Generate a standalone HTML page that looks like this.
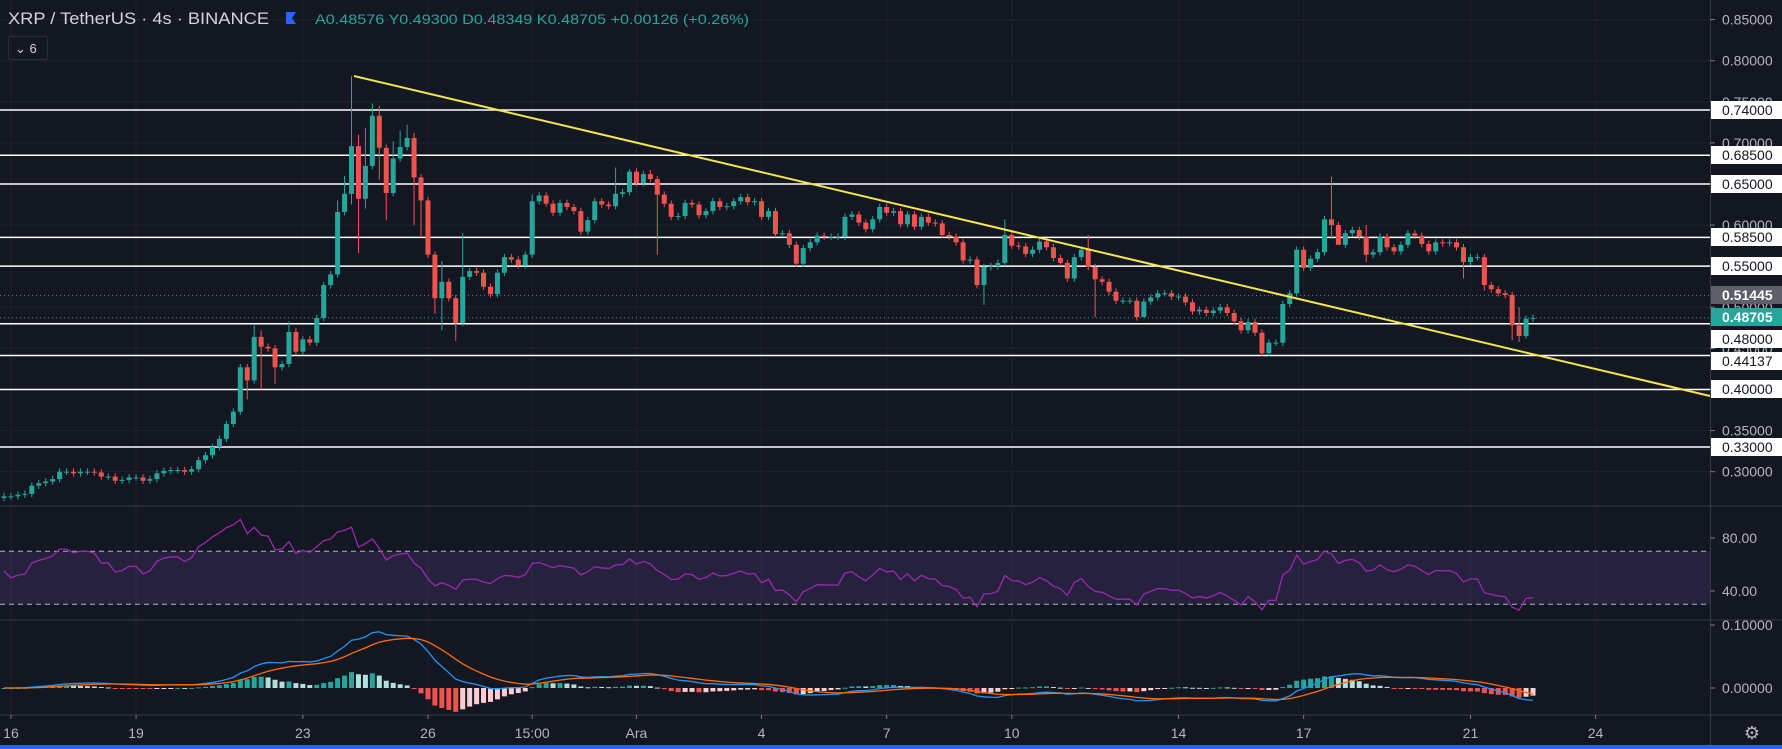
<!DOCTYPE html>
<html><head><meta charset="utf-8">
<style>
html,body{margin:0;padding:0;background:#131722;overflow:hidden}
svg{display:block}
text{font-family:"Liberation Sans",sans-serif}
</style></head>
<body>
<svg id="c" width="1782" height="749" viewBox="0 0 1782 749" xmlns="http://www.w3.org/2000/svg">
<rect x="0" y="0" width="1782" height="749" fill="#131722"/>
<g id="grid"></g>
<g id="levels"></g>
<g id="candles"></g>
<line x1="354" y1="76" x2="1710" y2="396" stroke="#f5e64a" stroke-width="2"/>
<g id="rsi"></g>
<g id="macd"></g>
<g id="axes"></g>
<text x="8" y="24" fill="#d1d4dc" font-size="17" textLength="261" lengthAdjust="spacingAndGlyphs">XRP / TetherUS · 4s · BINANCE</text>
<path d="M286 12 h10 l-4 6 l4 6 h-10 z" fill="#2962ff"/>
<text x="315" y="24" fill="#26a69a" font-size="14" textLength="434" lengthAdjust="spacingAndGlyphs">A0.48576 Y0.49300 D0.48349 K0.48705 +0.00126 (+0.26%)</text>
<rect x="8.5" y="36.5" width="39" height="23" rx="2" fill="none" stroke="#2a2e39"/>
<text x="15" y="53" fill="#d1d4dc" font-size="13">⌄ 6</text>
<rect x="0" y="745" width="1782" height="4" fill="#2962ff"/>
<text x="1752" y="739" fill="#b2b5be" font-size="18" text-anchor="middle">⚙</text>
</svg>
<script>
const closes=[0.270,0.270,0.272,0.273,0.283,0.286,0.288,0.291,0.300,0.300,0.298,0.300,0.300,0.299,0.294,0.294,0.289,0.290,0.293,0.293,
0.289,0.291,0.298,0.301,0.302,0.302,0.300,0.303,0.314,0.320,0.330,0.340,0.358,0.373,0.427,0.411,0.464,0.452,0.450,0.427,
0.431,0.470,0.446,0.461,0.457,0.487,0.527,0.540,0.616,0.638,0.696,0.632,0.672,0.733,0.694,0.639,0.681,0.695,0.706,0.658,
0.630,0.564,0.511,0.531,0.511,0.481,0.537,0.544,0.542,0.525,0.516,0.542,0.561,0.558,0.551,0.564,0.629,0.636,0.626,0.615,
0.627,0.622,0.617,0.592,0.606,0.629,0.625,0.623,0.638,0.640,0.665,0.651,0.662,0.656,0.637,0.626,0.610,0.611,0.627,0.625,
0.612,0.617,0.629,0.622,0.623,0.629,0.634,0.628,0.629,0.610,0.617,0.589,0.590,0.576,0.553,0.572,0.579,0.587,0.586,0.586,
0.586,0.610,0.613,0.603,0.595,0.607,0.622,0.615,0.617,0.601,0.613,0.598,0.610,0.603,0.602,0.588,0.586,0.579,0.557,0.558,
0.527,0.549,0.550,0.554,0.588,0.575,0.574,0.565,0.570,0.580,0.573,0.560,0.554,0.535,0.561,0.570,0.549,0.534,0.531,0.519,
0.508,0.508,0.508,0.488,0.507,0.512,0.517,0.517,0.513,0.513,0.506,0.495,0.497,0.493,0.496,0.500,0.493,0.483,0.472,0.482,
0.469,0.444,0.457,0.457,0.504,0.517,0.570,0.548,0.559,0.567,0.607,0.600,0.576,0.590,0.594,0.586,0.564,0.567,0.586,0.573,
0.568,0.576,0.590,0.587,0.577,0.568,0.579,0.578,0.579,0.573,0.555,0.561,0.561,0.527,0.522,0.517,0.515,0.478,0.465,0.486,0.487];
const firstOpen=0.268;
const highOverrides={36:0.478,37:0.472,41:0.483,42:0.475,48:0.630,49:0.660,50:0.781,51:0.710,52:0.718,53:0.748,54:0.745,56:0.702,57:0.715,58:0.722,59:0.712,63:0.556,66:0.590,76:0.637,88:0.670,90:0.668,93:0.667,144:0.607,156:0.588,191:0.659,196:0.600,213:0.565,218:0.500};
const lowOverrides={35:0.388,37:0.400,39:0.407,50:0.625,51:0.566,52:0.620,54:0.655,55:0.606,59:0.600,60:0.585,62:0.492,63:0.472,65:0.459,94:0.564,141:0.503,157:0.488,164:0.492,181:0.440,191:0.583,192:0.577,196:0.555,210:0.535,213:0.520,217:0.460,218:0.458,219:0.462};
const priceTicks=[0.85,0.80,0.75,0.70,0.65,0.60,0.55,0.50,0.45,0.40,0.35,0.30];
const tickLabels=["0.85000","0.80000","0.75000","0.70000","0.65000","0.60000","0.55000","0.50000","0.45000","0.40000","0.35000","0.30000"];
const levelValues=[0.74,0.685,0.65,0.585,0.55,0.48,0.44137,0.40,0.33];
const levelLabels=["0.74000","0.68500","0.65000","0.58500","0.55000","0.48000","0.44137","0.40000","0.33000"];
const levelLabelY=[110,155,184,237,266,339,361,389,447];
const timeLabels=["16","19","23","26","15:00","Ara","4","7","10","14","17","21","24"];
const timeIdx=[1,19,43,61,76,91,109,127,145,169,187,211,229];
const rsiTicks=[80,40];
const macdTicks=[0.1,0.0];

const NS="http://www.w3.org/2000/svg";
function el(tag,attrs,parent){const e=document.createElementNS(NS,tag);for(const k in attrs)e.setAttribute(k,attrs[k]);parent.appendChild(e);return e;}
const X=i=>4+6.95*i;
const Y=p=>110+(0.74-p)*822;
const RY=v=>538-(v-80)*1.325;
const MY=v=>688-v*630;
const PLOT_R=1710;

const grid=document.getElementById('grid');
priceTicks.forEach((p,k)=>{const l=el('line',{x1:0,x2:PLOT_R,y1:Y(p),y2:Y(p),stroke:'#1e222d','stroke-width':1},grid);

});
timeIdx.forEach(i=>{const l=el('line',{x1:X(i),x2:X(i),y1:0,y2:715,stroke:'#1e222d','stroke-width':1},grid);

});

const lv=document.getElementById('levels');
levelValues.forEach((p,k)=>{const l=el('line',{x1:0,x2:PLOT_R,y1:Y(p),y2:Y(p),stroke:'#ffffff','stroke-width':1.5},lv);

});
const d1=el('line',{x1:0,x2:PLOT_R,y1:Y(0.51445),y2:Y(0.51445),stroke:'#787b86','stroke-dasharray':'1 3'},lv);


const d2=el('line',{x1:0,x2:PLOT_R,y1:Y(0.48705),y2:Y(0.48705),stroke:'#26a69a','stroke-dasharray':'1 3'},lv);



const cg=document.getElementById('candles');
closes.forEach((c,i)=>{
  const o=i===0?firstOpen:closes[i-1];
  const up=c>=o;
  const col=up?'#26a69a':'#ef5350';
  const top=Math.max(o,c),bot=Math.min(o,c);
  const hi=highOverrides[i]!==undefined?Math.max(highOverrides[i],top):top+0.004;
  const lo=lowOverrides[i]!==undefined?Math.min(lowOverrides[i],bot):bot-0.004;
  const g=el('g',{},cg);
  
  
  el('line',{x1:X(i),x2:X(i),y1:Y(hi),y2:Y(lo),stroke:col,'stroke-width':1},g);
  const h=Math.max(1,Y(bot)-Y(top));
  el('rect',{x:X(i)-2.5,y:Y(top),width:5,height:h,fill:col},g);
});

const rsi=[];let ag=0,al=0;
closes.forEach((c,i)=>{
  if(i===0){rsi.push(55);return;}
  const ch=c-closes[i-1];const g=Math.max(ch,0),l=Math.max(-ch,0);
  if(i===1){ag=g+0.002;al=l+0.002;}else{ag=(ag*13+g)/14;al=(al*13+l)/14;}
  rsi.push(al===0?100:100-100/(1+ag/al));
});
const rg=document.getElementById('rsi');
const band=el('rect',{x:0,y:RY(70),width:PLOT_R,height:RY(30)-RY(70),fill:'#7e57c2','fill-opacity':0.18},rg);


[70,30].forEach(v=>{const l=el('line',{x1:0,x2:PLOT_R,y1:RY(v),y2:RY(v),stroke:'#b2b5be','stroke-dasharray':'5 4','stroke-width':1},rg);

});
const rp=el('polyline',{points:rsi.map((v,i)=>X(i)+','+RY(v)).join(' '),fill:'none',stroke:'#9c27b0','stroke-width':1.3},rg);



function ema(arr,n){const k=2/(n+1);const out=[];arr.forEach((v,i)=>out.push(i===0?v:v*k+out[i-1]*(1-k)));return out;}
const e12=ema(closes,12),e26=ema(closes,26);
const macd=e12.map((v,i)=>v-e26[i]);
const sig=ema(macd,9);
const hist=macd.map((v,i)=>v-sig[i]);
const mg=document.getElementById('macd');
hist.forEach((h,i)=>{
  const prev=i>0?hist[i-1]:0;
  const col=h>=0?(h>=prev?'#26a69a':'#b2dfdb'):(h<prev?'#ef5350':'#ffcdd2');
  const y0=MY(0),y1=MY(h*1.2);
  const r=el('rect',{x:X(i)-2.5,y:Math.min(y0,y1),width:5,height:Math.max(1,Math.abs(y1-y0)),fill:col},mg);
  
  
});
const ml=el('polyline',{points:macd.map((v,i)=>X(i)+','+MY(v)).join(' '),fill:'none',stroke:'#2196f3','stroke-width':1.3},mg);


const sl=el('polyline',{points:sig.map((v,i)=>X(i)+','+MY(v)).join(' '),fill:'none',stroke:'#ff6d00','stroke-width':1.3},mg);



const ax=document.getElementById('axes');
const bg=el('rect',{x:PLOT_R+1,y:0,width:72,height:745,fill:'#131722'},ax);


[[506],[620],[715]].forEach(([y])=>{const l=el('line',{x1:0,x2:1782,y1:y,y2:y,stroke:'#363a45','stroke-width':1},ax);

});
const vl=el('line',{x1:PLOT_R+0.5,x2:PLOT_R+0.5,y1:0,y2:745,stroke:'#363a45'},ax);


function axisLabel(y,txt,name){
  el('line',{x1:PLOT_R,x2:PLOT_R+5,y1:y,y2:y,stroke:'#787b86'},ax);
  const t=el('text',{x:PLOT_R+12,y:y+5,fill:'#b2b5be','font-size':14},ax);t.textContent=txt;
  
  
}
priceTicks.forEach((p,k)=>axisLabel(Y(p),tickLabels[k],'price-tick-label'));
rsiTicks.forEach(v=>axisLabel(RY(v),v.toFixed(2),'rsi-tick-label'));
macdTicks.forEach(v=>axisLabel(MY(v),v.toFixed(5),'macd-tick-label'));
function boxLabel(y,txt,bgc,fg,name,bold){
  const b=el('rect',{x:PLOT_R+1,y:y-9,width:72,height:18,fill:bgc},ax);
  
  
  const t=el('text',{x:PLOT_R+12,y:y+5,fill:fg,'font-size':14,'font-weight':bold?'bold':'normal'},ax);t.textContent=txt;
  
  
}
levelValues.forEach((p,k)=>boxLabel(levelLabelY[k],levelLabels[k],'#ffffff','#131722','level-label'));
boxLabel(295,'0.51445','#5d606b','#ffffff','prev-close-label',true);
boxLabel(317,'0.48705','#26a69a','#ffffff','last-price-label',true);
timeLabels.forEach((s,k)=>{
  el('line',{x1:X(timeIdx[k]),x2:X(timeIdx[k]),y1:715,y2:719,stroke:'#787b86'},ax);
  const t=el('text',{x:X(timeIdx[k]),y:738,fill:'#b2b5be','font-size':14,'text-anchor':'middle'},ax);t.textContent=s;
  
  
});
</script>
</body></html>
